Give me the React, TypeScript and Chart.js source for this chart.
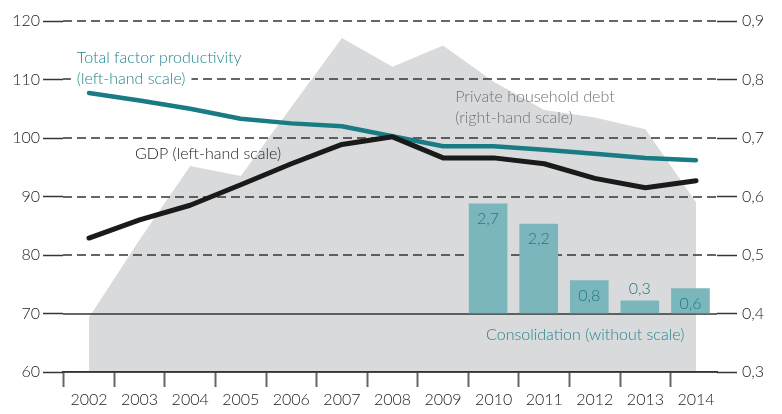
import React, { useEffect, useRef } from "react";
import { Chart, registerables } from "chart.js";

Chart.register(...registerables);

// ---------- data ----------
const years = [2002, 2003, 2004, 2005, 2006, 2007, 2008, 2009, 2010, 2011, 2012, 2013, 2014];
const tfpValues = [107.7, 106.4, 105.0, 103.3, 102.5, 102.0, 100.3, 98.6, 98.6, 98.0, 97.3, 96.6, 96.2];
const gdpValues = [82.9, 86.0, 88.5, 92.0, 95.6, 98.9, 100.2, 96.6, 96.6, 95.6, 93.1, 91.5, 92.7];
const debtValues = [0.393, 0.526, 0.652, 0.635, 0.753, 0.871, 0.822, 0.858, 0.796, 0.748, 0.735, 0.715, 0.59];
const consolidationYears = [2010, 2011, 2012, 2013, 2014];
const consolidationValues = [2.7, 2.2, 0.8, 0.3, 0.6];
const leftTicks = [60, 70, 80, 90, 100, 110, 120];
const rightTicks = [0.3, 0.4, 0.5, 0.6, 0.7, 0.8, 0.9];
const tfpLabel = ["Total factor productivity", "(left-hand scale)"];
const gdpLabel = ["GDP (left-hand scale)"];
const debtLabel = ["Private household debt", "(right-hand scale)"];
const consolidationLabel = ["Consolidation (without scale)"];

// ---------- style ----------
const FONT = "Lato, 'Open Sans', sans-serif";
const WEIGHT = 300;
const TEAL = "#197b83";
const TEAL_TEXT = "#23868e";
const BAR_COLOR = "#7bb6bc";
const BAR_LABEL = "#1c7a82";
const GREY_AREA = "#d9dadc";
const GREY_TEXT = "#717171";
const GRID = "#353535";
const TEXT = "#222222";
const BAR_SHIFT = -0.11;
const SOLID_LEFT = [60, 70];
const DASH = [9, 5];

const notes = [
  { lines: tfpLabel, x: 2001.76, y: 112.9, color: TEAL_TEXT, knockout: true },
  { lines: gdpLabel, x: 2002.91, y: 96.4, color: TEXT, knockout: false },
  { lines: debtLabel, x: 2009.24, y: 106.2, color: GREY_TEXT, knockout: false },
  { lines: consolidationLabel, x: 2009.85, y: 65.4, color: TEAL_TEXT, knockout: false },
];

const fmtComma = (v: number) => v.toFixed(1).replace(".", ",");

const overlayPlugin = {
  id: "overlay",
  afterDatasetDraw(chart: any, args: any) {
    // horizontal grid lines of the left scale: above the grey area, below the bars
    if (args.index !== 3) return;
    const ctx = chart.ctx;
    const area = chart.chartArea;
    const ys = chart.scales.y;
    ctx.save();
    ctx.strokeStyle = GRID;
    ctx.lineWidth = 1.5;
    ys.ticks.forEach((t: any) => {
      const y = Math.round(ys.getPixelForValue(t.value));
      ctx.setLineDash(SOLID_LEFT.includes(t.value) ? [] : DASH);
      ctx.beginPath();
      ctx.moveTo(area.left, y);
      ctx.lineTo(area.right, y);
      ctx.stroke();
    });
    ctx.restore();
  },
  afterDatasetsDraw(chart: any) {
    const ctx = chart.ctx;
    ctx.save();
    ctx.font = `${WEIGHT} 16px ${FONT}`;
    ctx.textBaseline = "alphabetic";
    // bar value labels
    const meta = chart.getDatasetMeta(0);
    ctx.textAlign = "center";
    ctx.fillStyle = BAR_LABEL;
    meta.data.forEach((el: any, i: number) => {
      const h = el.base - el.y;
      const y = h < 20 ? el.y - 7 : el.y + 20;
      ctx.fillText(fmtComma(consolidationValues[i]), el.x, y);
    });
    // annotations
    ctx.textAlign = "left";
    const xs = chart.scales.x;
    const ys = chart.scales.y;
    notes.forEach((n) => {
      const px = xs.getPixelForValue(n.x);
      const py = ys.getPixelForValue(n.y);
      n.lines.forEach((t, k) => {
        const by = py + k * 21;
        if (n.knockout) {
          const w = ctx.measureText(t).width;
          ctx.fillStyle = "#ffffff";
          ctx.fillRect(px - 6, by - 15, w + 12, 20);
        }
        ctx.fillStyle = n.color;
        ctx.fillText(t, px, by);
      });
    });
    ctx.restore();
  },
};

export default function App() {
  const ref = useRef<HTMLCanvasElement | null>(null);

  useEffect(() => {
    if (!ref.current) return;
    const chart = new Chart(ref.current, {
      type: "line",
      data: {
        datasets: [
          {
            type: "bar",
            label: "Consolidation",
            data: consolidationYears.map((yr, i) => ({ x: yr + BAR_SHIFT, y: consolidationValues[i] })),
            yAxisID: "y2",
            backgroundColor: BAR_COLOR,
            borderWidth: 0,
            barThickness: 38,
            order: 2,
          } as any,
          {
            label: "Total factor productivity",
            data: years.map((yr, i) => ({ x: yr, y: tfpValues[i] })),
            yAxisID: "y",
            borderColor: TEAL,
            borderWidth: 4.5,
            borderCapStyle: "round",
            borderJoinStyle: "round",
            pointRadius: 0,
            fill: false,
            tension: 0,
            order: 1,
          },
          {
            label: "GDP",
            data: years.map((yr, i) => ({ x: yr, y: gdpValues[i] })),
            yAxisID: "y",
            borderColor: "#1a1a1a",
            borderWidth: 5,
            borderCapStyle: "round",
            borderJoinStyle: "round",
            pointRadius: 0,
            fill: false,
            tension: 0,
            order: 0,
          },
          {
            label: "Private household debt",
            data: years.map((yr, i) => ({ x: yr, y: debtValues[i] })),
            yAxisID: "y1",
            borderColor: "rgba(0,0,0,0)",
            borderWidth: 0,
            backgroundColor: GREY_AREA,
            pointRadius: 0,
            fill: "start",
            tension: 0,
            order: 3,
          },
        ],
      },
      options: {
        animation: false,
        responsive: false,
        devicePixelRatio: 1,
        layout: { padding: { top: 8, left: 0, right: 0, bottom: 0 } },
        plugins: { legend: { display: false }, tooltip: { enabled: false } },
        scales: {
          x: {
            type: "linear",
            position: "bottom",
            min: 2001.486,
            max: 2014.415,
            offset: false,
            afterBuildTicks: (s: any) => {
              s.ticks = years.map((v) => ({ value: v }));
            },
            afterFit: (s: any) => {
              s.height = 34;
            },
            border: { display: true, color: GRID, width: 1.5, z: 1 },
            grid: {
              drawOnChartArea: false,
              drawTicks: true,
              tickLength: 15,
              tickColor: "#666",
              tickWidth: 2,
            },
            ticks: {
              autoSkip: false,
              maxRotation: 0,
              padding: 3,
              color: TEXT,
              font: { family: FONT, size: 16, weight: WEIGHT },
              callback: (v: any) => String(v),
            },
          },
          y: {
            type: "linear",
            position: "left",
            min: 60,
            max: 120,
            afterBuildTicks: (s: any) => {
              s.ticks = leftTicks.map((v) => ({ value: v }));
            },
            afterFit: (s: any) => {
              s.width = 55;
            },
            border: { display: false },
            grid: {
              drawOnChartArea: false,
              drawTicks: true,
              tickLength: 20,
              tickColor: GRID,
              tickWidth: 1.5,
            },
            ticks: {
              padding: 3,
              color: TEXT,
              font: { family: FONT, size: 16, lineHeight: 1, weight: WEIGHT },
              callback: (v: any) => String(v),
            },
          },
          y1: {
            type: "linear",
            position: "right",
            min: 0.3,
            max: 0.9,
            afterBuildTicks: (s: any) => {
              s.ticks = rightTicks.map((v) => ({ value: v }));
            },
            afterFit: (s: any) => {
              s.width = 57;
            },
            border: { display: false },
            grid: {
              drawOnChartArea: false,
              drawTicks: true,
              tickLength: 20,
              tickColor: GRID,
              tickWidth: 1.5,
            },
            ticks: {
              padding: 5,
              color: TEXT,
              font: { family: FONT, size: 16, lineHeight: 1, weight: WEIGHT },
              callback: (v: any) => fmtComma(Number(v)),
            },
          },
          y2: {
            type: "linear",
            display: false,
            min: -1.46,
            max: 7.22,
          },
        },
      } as any,
      plugins: [overlayPlugin],
    });
    return () => chart.destroy();
  }, []);

  return (
    <div style={{ width: 766, height: 398 }}>
      <canvas ref={ref} width={766} height={398} style={{ display: "block" }} />
    </div>
  );
}
